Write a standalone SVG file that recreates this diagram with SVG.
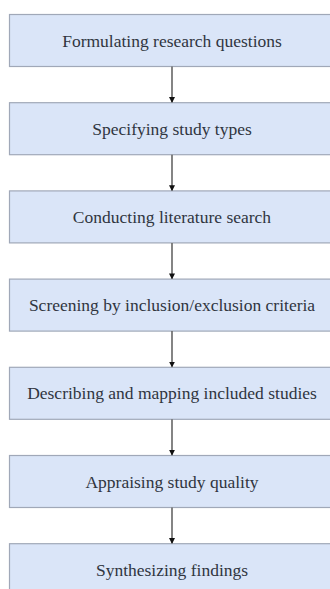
<svg xmlns="http://www.w3.org/2000/svg" width="330" height="589" viewBox="0 0 330 589">
<style>
.box rect{fill:#dae5f8;stroke:#a0a8b8;stroke-width:1.2}
.box text{font-family:"Liberation Serif","Times New Roman",serif;font-size:17.5px;fill:#30353f;text-anchor:middle}
.conn line{stroke:#666;stroke-width:1.6}
</style>
<defs>
<marker id="ah" markerWidth="6" markerHeight="6" refX="5" refY="3" orient="auto" markerUnits="userSpaceOnUse">
<path d="M0,0 L6,3 L0,6 Z" fill="#111"/>
</marker>
</defs>
<rect width="330" height="589" fill="#fff"/>
<g id="n1" class="box"><rect x="9.5" y="14.5" width="326" height="52"/><text x="172" y="46.5">Formulating research questions</text></g>
<g id="n2" class="box"><rect x="9.5" y="102.7" width="326" height="52"/><text x="172" y="134.7">Specifying study types</text></g>
<g id="n3" class="box"><rect x="9.5" y="190.9" width="326" height="52"/><text x="172" y="222.9">Conducting literature search</text></g>
<g id="n4" class="box"><rect x="9.5" y="279.1" width="326" height="52"/><text x="172" y="311.1">Screening by inclusion/exclusion criteria</text></g>
<g id="n5" class="box"><rect x="9.5" y="367.3" width="326" height="52"/><text x="172" y="399.3">Describing and mapping included studies</text></g>
<g id="n6" class="box"><rect x="9.5" y="455.5" width="326" height="52"/><text x="172" y="487.5">Appraising study quality</text></g>
<g id="n7" class="box"><rect x="9.5" y="543.7" width="326" height="52"/><text x="172" y="575.7">Synthesizing findings</text></g>
<g id="connectors" class="conn">
<line x1="172" y1="66.5" x2="172" y2="102" marker-end="url(#ah)"/>
<line x1="172" y1="154.7" x2="172" y2="190.2" marker-end="url(#ah)"/>
<line x1="172" y1="242.9" x2="172" y2="278.4" marker-end="url(#ah)"/>
<line x1="172" y1="331.1" x2="172" y2="366.6" marker-end="url(#ah)"/>
<line x1="172" y1="419.3" x2="172" y2="454.8" marker-end="url(#ah)"/>
<line x1="172" y1="507.5" x2="172" y2="543" marker-end="url(#ah)"/>
</g>
</svg>
